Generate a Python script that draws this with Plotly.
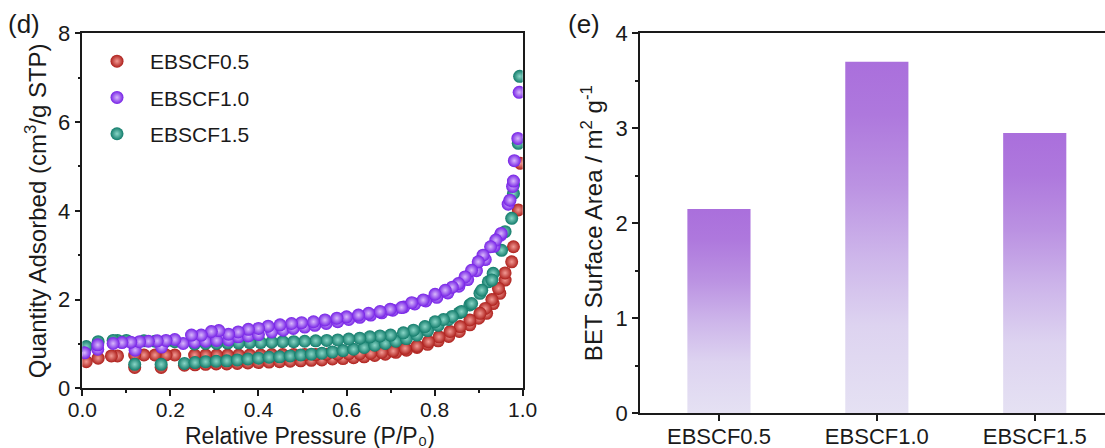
import plotly.graph_objects as go

# ---- (d) N2 adsorption-desorption isotherms ----
p05_ads_x = [0.009, 0.036, 0.119, 0.179, 0.232, 0.256, 0.28, 0.304, 0.328, 0.352, 0.376, 0.40, 0.424, 0.448,
             0.472, 0.496, 0.52, 0.544, 0.568, 0.592, 0.616, 0.64, 0.664, 0.688, 0.712, 0.736, 0.76, 0.784,
             0.808, 0.832, 0.856, 0.88, 0.90, 0.918, 0.933, 0.948, 0.96, 0.975, 0.99, 0.995]
p05_ads_y = [0.60, 0.68, 0.47, 0.47, 0.52, 0.53, 0.54, 0.55, 0.55, 0.56, 0.57, 0.58, 0.59, 0.60,
             0.61, 0.62, 0.63, 0.64, 0.66, 0.67, 0.69, 0.71, 0.74, 0.77, 0.81, 0.86, 0.92, 0.99,
             1.07, 1.17, 1.28, 1.43, 1.58, 1.69, 1.91, 2.14, 2.44, 2.85, 4.02, 5.07]
p05_des_x = [0.979, 0.96, 0.945, 0.93, 0.915, 0.903, 0.88, 0.858, 0.835, 0.81, 0.786, 0.76, 0.733, 0.706,
             0.68, 0.655, 0.63, 0.605, 0.58, 0.555, 0.53, 0.505, 0.48, 0.455, 0.43, 0.405, 0.38, 0.355,
             0.33, 0.305, 0.28, 0.255, 0.21, 0.19, 0.165, 0.14, 0.119, 0.08, 0.066]
p05_des_y = [3.19, 2.60, 2.25, 2.00, 1.80, 1.69, 1.54, 1.39, 1.28, 1.16, 1.05, 0.95, 0.90, 0.84,
             0.81, 0.79, 0.78, 0.78, 0.77, 0.77, 0.76, 0.76, 0.76, 0.76, 0.76, 0.75, 0.75, 0.75,
             0.75, 0.75, 0.75, 0.75, 0.75, 0.75, 0.75, 0.75, 0.75, 0.73, 0.73]

p10_ads_x = [0.005, 0.035, 0.12, 0.18, 0.229, 0.255, 0.28, 0.305, 0.332, 0.354, 0.377, 0.40, 0.43, 0.456,
             0.479, 0.505, 0.528, 0.554, 0.58, 0.605, 0.63, 0.655, 0.68, 0.705, 0.73, 0.755, 0.78, 0.805,
             0.83, 0.855, 0.875, 0.895, 0.915, 0.935, 0.95, 0.967, 0.977, 0.981, 0.989, 0.992]
p10_ads_y = [0.80, 0.88, 0.86, 0.93, 1.01, 1.04, 1.06, 1.08, 1.09, 1.16, 1.18, 1.21, 1.27, 1.31,
             1.35, 1.38, 1.42, 1.46, 1.50, 1.55, 1.60, 1.65, 1.70, 1.76, 1.83, 1.90, 1.97, 2.05,
             2.15, 2.30, 2.45, 2.65, 2.90, 3.20, 3.45, 4.15, 4.55, 5.13, 5.63, 6.67]
p10_des_x = [0.979, 0.971, 0.951, 0.939, 0.927, 0.91, 0.899, 0.884, 0.869, 0.854, 0.84, 0.824, 0.801, 0.774,
             0.748, 0.725, 0.699, 0.676, 0.65, 0.627, 0.60, 0.578, 0.551, 0.525, 0.498, 0.475, 0.449, 0.422,
             0.40, 0.377, 0.354, 0.332, 0.31, 0.293, 0.27, 0.248, 0.21, 0.19, 0.17, 0.15, 0.13, 0.11,
             0.09, 0.07, 0.035]
p10_des_y = [4.67, 4.24, 3.49, 3.34, 3.19, 3.00, 2.85, 2.66, 2.51, 2.36, 2.28, 2.21, 2.12, 1.99,
             1.93, 1.82, 1.78, 1.73, 1.69, 1.65, 1.61, 1.58, 1.54, 1.50, 1.48, 1.46, 1.43, 1.40,
             1.35, 1.33, 1.27, 1.22, 1.30, 1.28, 1.20, 1.20, 1.10, 1.08, 1.07, 1.06, 1.05, 1.04,
             1.03, 1.01, 0.98]

p15_ads_x = [0.009, 0.036, 0.119, 0.179, 0.232, 0.256, 0.28, 0.304, 0.328, 0.352, 0.376, 0.40, 0.424, 0.448,
             0.472, 0.496, 0.52, 0.544, 0.568, 0.592, 0.616, 0.64, 0.664, 0.688, 0.712, 0.736, 0.76, 0.784,
             0.808, 0.832, 0.856, 0.88, 0.903, 0.922, 0.933, 0.952, 0.96, 0.975, 0.979, 0.99, 0.993]
p15_ads_y = [0.94, 1.05, 0.54, 0.54, 0.56, 0.58, 0.60, 0.61, 0.62, 0.64, 0.66, 0.68, 0.70, 0.71,
             0.73, 0.75, 0.77, 0.79, 0.82, 0.85, 0.88, 0.92, 0.97, 1.01, 1.06, 1.12, 1.20, 1.30,
             1.42, 1.55, 1.70, 1.88, 2.14, 2.40, 2.59, 3.11, 3.53, 3.83, 4.39, 5.52, 7.03]
p15_des_x = [0.979, 0.93, 0.907, 0.884, 0.861, 0.84, 0.82, 0.801, 0.778, 0.752, 0.729, 0.70, 0.676, 0.653,
             0.63, 0.605, 0.58, 0.555, 0.53, 0.505, 0.48, 0.455, 0.43, 0.405, 0.38, 0.355, 0.33, 0.305,
             0.28, 0.255, 0.21, 0.19, 0.165, 0.14, 0.10, 0.08, 0.07]
p15_des_y = [4.58, 2.44, 2.21, 1.91, 1.73, 1.62, 1.55, 1.50, 1.39, 1.31, 1.25, 1.20, 1.18, 1.16,
             1.13, 1.11, 1.09, 1.08, 1.07, 1.06, 1.05, 1.05, 1.04, 1.03, 1.03, 1.02, 1.02, 1.01,
             1.01, 1.00, 1.05, 1.06, 1.06, 1.07, 1.08, 1.08, 1.08]

# ---- (e) BET surface area ----
samples = ["EBSCF0.5", "EBSCF1.0", "EBSCF1.5"]
bet_area = [2.15, 3.70, 2.95]

FONT = "Liberation Sans, Arial, DejaVu Sans, sans-serif"
INK = "#1a1a1a"
W, H = 1105, 448

fig = go.Figure()

# spheres: edge colour + lighter radial centre
series = [
    ("EBSCF0.5", p05_ads_x + p05_des_x, p05_ads_y + p05_des_y, "#ad1f1b", "#f29a94", 1),
    ("EBSCF1.5", p15_ads_x + p15_des_x, p15_ads_y + p15_des_y, "#117b6a", "#8ad6c7", 3),
    ("EBSCF1.0", p10_ads_x + p10_des_x, p10_ads_y + p10_des_y, "#7520e6", "#d8b8fb", 2),
]
for name, xs, ys, edge, core, rank in series:
    fig.add_trace(go.Scatter(
        x=xs, y=ys, mode="markers", name=name, legendrank=rank, legendgroup=name,
        marker=dict(size=13, color=edge, gradient=dict(type="radial", color=core), line=dict(width=0)),
        xaxis="x", yaxis="y",
    ))

# gradient-filled bars
bar_half = 0.2
bar_scale = [[0.0, "#e5e1f3"], [0.25, "#ddd3f0"], [0.45, "#cdb5ea"], [0.65, "#bb92e2"],
             [0.85, "#ae78dd"], [1.0, "#aa6fdc"]]
for i, (lab, v) in enumerate(zip(samples, bet_area)):
    fig.add_trace(go.Scatter(
        x=[i - bar_half, i + bar_half, i + bar_half, i - bar_half, i - bar_half],
        y=[0, 0, v, v, 0],
        mode="lines", line=dict(width=0), fill="toself",
        fillgradient=dict(type="vertical", colorscale=bar_scale),
        showlegend=False, hoverinfo="skip", name=lab,
        xaxis="x2", yaxis="y2",
    ))

axis_common = dict(showline=True, linecolor=INK, linewidth=1.5, ticks="outside", ticklen=6,
                   tickwidth=1.5, tickcolor=INK, showgrid=False, zeroline=False, automargin=False,
                   tickfont=dict(family=FONT, size=22, color=INK))
minor_common = dict(ticks="outside", ticklen=3, tickcolor=INK, tickwidth=1.5, showgrid=False)

fig.update_layout(
    width=W, height=H,
    margin=dict(l=0, r=0, t=0, b=0, autoexpand=False),
    paper_bgcolor="white", plot_bgcolor="white",
    font=dict(family=FONT, color=INK),
    showlegend=True,
    legend=dict(x=84 / W, y=1 - 41 / H, xanchor="left", yanchor="top", bgcolor="rgba(0,0,0,0)",
                font=dict(family=FONT, size=21, color=INK), tracegroupgap=6, itemwidth=56),
    xaxis=dict(axis_common, domain=[82.3 / W, 522.7 / W], range=[0, 1.0], dtick=0.2, tickformat=".1f",
               mirror=True, anchor="y", minor=dict(minor_common, dtick=0.1), ticklabelstandoff=-4,
               tickfont=dict(family=FONT, size=21, color=INK)),
    yaxis=dict(axis_common, domain=[1 - 388.3 / H, 1 - 33.3 / H], range=[0, 8], dtick=2, mirror=True,
               anchor="x", minor=dict(minor_common, dtick=1),
               title=dict(text="Quantity Adsorbed (cm<sup>3</sup>/g STP)", font=dict(family=FONT, size=24),
                          standoff=4)),
    xaxis2=dict(axis_common, domain=[640 / W, 1.0], range=[-0.5, 2.445], tickvals=[0, 1, 2],
                ticktext=samples, mirror=True, anchor="y2", ticklabelstandoff=-3,
                tickfont=dict(family=FONT, size=22, color=INK)),
    yaxis2=dict(axis_common, domain=[1 - 413 / H, 1 - 33.3 / H], range=[0, 4], dtick=1, anchor="x2",
                minor=dict(minor_common, dtick=0.5),
                title=dict(text="BET Surface Area / m<sup>2</sup> g<sup>-1</sup>",
                           font=dict(family=FONT, size=24), standoff=6)),
    annotations=[
        dict(text="Relative Pressure (P/P\u2080)", x=310 / W, y=1 - 436 / H, xref="paper",
             yref="paper", xanchor="center", yanchor="middle", showarrow=False,
             font=dict(family=FONT, size=23, color=INK)),
        dict(text="(d)", x=6 / W, y=1 - 24 / H, xref="paper", yref="paper", xanchor="left",
             yanchor="middle", showarrow=False, font=dict(family=FONT, size=26, color=INK)),
        dict(text="(e)", x=566 / W, y=1 - 24 / H, xref="paper", yref="paper", xanchor="left",
             yanchor="middle", showarrow=False, font=dict(family=FONT, size=26, color=INK)),
    ],
)

fig.write_html("out.html")
